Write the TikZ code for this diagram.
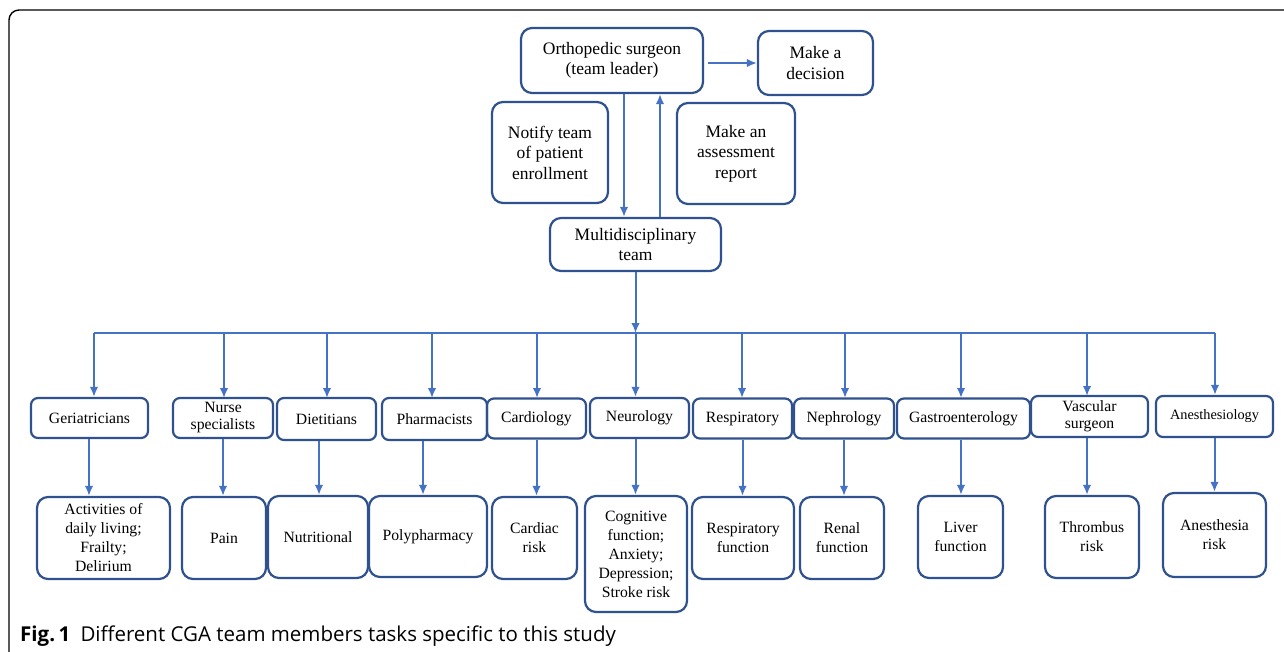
\documentclass[tikz,border=0pt]{standalone}
\usepackage{fontspec}
\setmainfont{Liberation Serif}
\newfontfamily\capfont{Open Sans}
\usetikzlibrary{arrows.meta}
\usetikzlibrary{positioning}

\definecolor{boxline}{HTML}{2F528F}
\definecolor{arrline}{HTML}{4472C4}

\begin{document}
\begin{tikzpicture}
  [x=1pt,y=-1pt,
  team/.style={draw=boxline,line width=2.2pt,rounded corners=11pt,align=center,inner sep=1pt,
    font=\fontsize{17.5}{20.5}\selectfont},
  member/.style={draw=boxline,line width=2.2pt,rounded corners=7pt,align=center,inner sep=1pt,
    minimum height=40pt,font=\fontsize{15.7}{17}\selectfont},
  task/.style={draw=boxline,line width=2.2pt,rounded corners=11pt,align=center,inner sep=1pt,
    minimum height=82pt,font=\fontsize{15.7}{19}\selectfont},
  arr/.style={-{Latex[length=10pt,width=8.5pt]},arrline,line width=2pt},
  link/.style={arrline,line width=2pt}]
  \useasboundingbox (0,0) rectangle (1284,651);
  % frame and caption
  \draw [line width=1.4pt,rounded corners=10pt] (9,660) -- (9,10) -- (1290,10);
  \node [anchor=base west,inner sep=0pt,font=\capfont\fontsize{20.5}{23}\selectfont] (cap) at (20,641)
    {\textbf{Fig.\,1}\enspace Different CGA team members tasks specific to this study};

  % top part
  \node [team,minimum width=182pt,minimum height=65pt] (surgeon) at (612,60.5) {Orthopedic surgeon\\(team leader)};
  \node [team,minimum width=115pt,minimum height=64pt] (decision) at (815.5,63) {Make a\\decision};
  \node [team,minimum width=116pt,minimum height=101pt] (notify) at (550,152.5) {Notify team\\of patient\\enrollment};
  \node [team,minimum width=118pt,minimum height=101pt] (report) at (736,153.5) {Make an\\assessment\\report};
  \node [team,minimum width=171pt,minimum height=53pt] (multi) at (635.5,244.5) {Multidisciplinary\\team};

  \coordinate (down) at (624,0);
  \coordinate (up) at (660,0);
  \draw [arr] (surgeon.south -| down) -- (multi.north -| down);
  \draw [arr] (multi.north -| up) -- (surgeon.south -| up);
  \draw [arr] ([xshift=4pt]surgeon.east |- decision.west) -- (decision.west);

  % team members
  \node [member,minimum width=117pt] (ger) at (89.5,418) {Geriatricians};
  \node [member,minimum width=100pt] (nurse) at (223,418) {Nurse\\specialists};
  \node [member,minimum width=99pt,minimum height=42pt] (diet) at (326.5,419) {Dietitians};
  \node [member,minimum width=105pt,minimum height=42pt] (pharm) at (434.5,419) {Pharmacists};
  \node [member,minimum width=99pt] (cardio) at (536.5,418.5) {Cardiology};
  \node [member,minimum width=99pt] (neuro) at (639.5,418) {Neurology};
  \node [member,minimum width=99pt] (resp) at (742.5,418.5) {Respiratory};
  \node [member,minimum width=100pt] (neph) at (844,418.5) {Nephrology};
  \node [member,minimum width=133pt] (gastro) at (963.5,418.5) {Gastroenterology};
  \node [member,minimum width=117pt,minimum height=41pt] (vasc) at (1089.5,416.5) {Vascular\\surgeon};
  \node [member,minimum width=117pt,minimum height=41pt,font=\fontsize{14.3}{17}\selectfont] (anest) at (1214.5,416.5) {Anesthesiology};

  % tasks
  \node [task,minimum width=133pt] (adl) at (103.5,538) {Activities of\\daily living;\\Frailty;\\Delirium};
  \node [task,minimum width=84pt] (pain) at (224,538) {Pain};
  \node [task,minimum width=100pt] (nutr) at (318,537) {Nutritional};
  \node [task,minimum width=118pt,minimum height=81pt] (poly) at (428,536.5) {Polypharmacy};
  \node [task,minimum width=85pt] (cardrisk) at (534.5,538) {Cardiac\\risk};
  \node [task,minimum width=102pt,minimum height=116pt] (cogn) at (636,554) {Cognitive\\function;\\Anxiety;\\Depression;\\Stroke risk};
  \node [task,minimum width=102pt] (respfun) at (743,538) {Respiratory\\function};
  \node [task,minimum width=84pt] (renal) at (842,538) {Renal\\function};
  \node [task,minimum width=85pt] (liver) at (960.5,537) {Liver\\function};
  \node [task,minimum width=94pt] (thromb) at (1092,537) {Thrombus\\risk};
  \node [task,minimum width=103pt,minimum height=84pt] (anrisk) at (1214.5,535) {Anesthesia\\risk};

  % bus
  \coordinate (busl) at (94,333);
  \coordinate (busr) at (1215,333);
  \coordinate (busm) at (635.5,333);
  \draw [link] (busl) -- (busr);
  \draw [arr] (multi.south) -- (busm);

  \draw [arr] (busl) -- (busl |- ger.north);
  \draw [arr] (224,333) -- (224,398);
  \draw [arr] (327,333) -- (327,398);
  \draw [arr] (432,333) -- (432,398);
  \draw [arr] (537,333) -- (537,398);
  \draw [arr] (busm) -- (busm |- neuro.north);
  \draw [arr] (742,333) -- (742,398);
  \draw [arr] (845,333) -- (845,398);
  \draw [arr] (961,333) -- (961,398);
  \draw [arr] (1087,333) -- (1087,396);
  \draw [arr] (busr) -- (busr |- anest.north);

  % member to task
  \draw [arr] ([xshift=-0.5pt]ger.south) -- ([xshift=-0.5pt]ger.south |- adl.north);
  \draw [arr] (nurse.south) -- (nurse.south |- pain.north);
  \draw [arr] ([xshift=-7.5pt]diet.south) -- ([xshift=-7.5pt]diet.south |- nutr.north);
  \draw [arr] ([xshift=-11.5pt]pharm.south) -- ([xshift=-11.5pt]pharm.south |- poly.north);
  \draw [arr] (cardio.south) -- (cardio.south |- cardrisk.north);
  \draw [arr] ([xshift=-4pt]neuro.south) -- ([xshift=-4pt]neuro.south |- cogn.north);
  \draw [arr] (resp.south) -- (resp.south |- respfun.north);
  \draw [arr] (neph.south) -- (neph.south |- renal.north);
  \draw [arr] ([xshift=-2.5pt]gastro.south) -- ([xshift=-2.5pt]gastro.south |- liver.north);
  \draw [arr] ([xshift=-2.5pt]vasc.south) -- ([xshift=-2.5pt]vasc.south |- thromb.north);
  \draw [arr] (anest.south) -- (anest.south |- anrisk.north);
\end{tikzpicture}
\end{document}
